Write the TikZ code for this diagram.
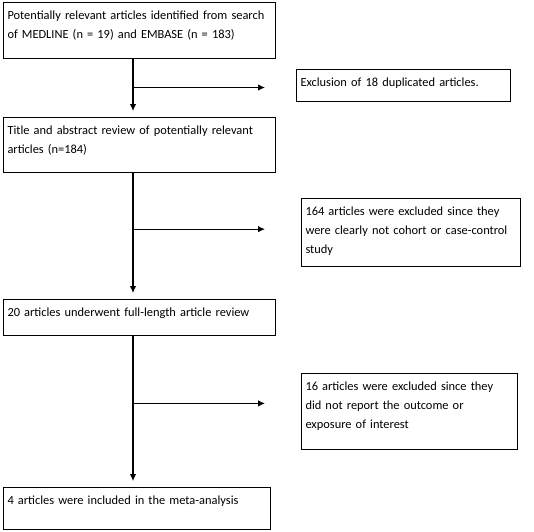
\documentclass[tikz,border=0pt]{standalone}
\usepackage{fontspec}
\setmainfont{Carlito}
\usetikzlibrary{arrows,arrows.meta,positioning,calc}

\begin{document}
\begin{tikzpicture}[->,>={Latex[length=7pt,width=6.5pt]},shorten >=6pt,line width=1.1pt,
		stage/.style={draw,line width=0.8pt,anchor=north west,align=left,outer sep=0pt,
			inner xsep=4.5pt,inner ysep=4pt,text height=13pt,font=\fontsize{12.4pt}{19pt}\selectfont},
		main/.style={stage,text width=263pt},
		excl/.style={stage}]
			\useasboundingbox (0,0) rectangle (534pt,-531pt);

			\node	[main,text depth=35pt]					(b1)	at (3pt,-2pt)	{Potentially relevant articles identified from search\\of MEDLINE (n = 19) and EMBASE (n = 183)};
			\node	[main,text depth=34pt]					(b2)	[below=59pt of b1.south west,anchor=north west]		{Title and abstract review of potentially relevant\\articles (n=184)};
			\node	[main,text depth=15pt]					(b3)	[below=127pt of b2.south west,anchor=north west]	{20 articles underwent full-length article review};
			\node	[main,text width=258pt,text depth=21pt]	(b4)	[below=152pt of b3.south west,anchor=north west]	{4 articles were included in the meta-analysis};

			\node	[excl,text width=205pt,text depth=11pt]	(e1)	[right=21pt of b1.north east,anchor=north west,yshift=-67pt]	{Exclusion of 18 duplicated articles.};
			\node	[excl,text width=210pt,text depth=47pt]	(e2)	[right=26pt of b2.north east,anchor=north west,yshift=-81pt]	{164 articles were excluded since they\\were clearly not cohort or case-control\\study};
			\node	[excl,text width=207pt,text depth=55pt]	(e3)	[right=26pt of b3.north east,anchor=north west,yshift=-74pt]	{16 articles were excluded since they\\did not report the outcome or\\exposure of interest};

			% trunk column and free ends of the side arrows
			\coordinate (col) at (133pt,0);
			\coordinate (gap) at (265pt,0);
			\coordinate (m1) at ($(b1.south -| col)!0.5!(b2.north -| col)$);
			\coordinate (m2) at ($(b2.south -| col)!0.45!(b3.north -| col)$);
			\coordinate (m3) at ($(b3.south -| col)!0.45!(b4.north -| col)$);

			\path
				(b1.south -| col)	edge					(b2.north -| col)
				(b2.south -| col)	edge					(b3.north -| col)
				(b3.south -| col)	edge					(b4.north -| col)
				(m1)				edge	[shorten >=0pt]	(m1 -| gap)
				(m2)				edge	[shorten >=0pt]	(m2 -| gap)
				(m3)				edge	[shorten >=0pt]	(m3 -| gap)
			;
		\end{tikzpicture}
\end{document}
